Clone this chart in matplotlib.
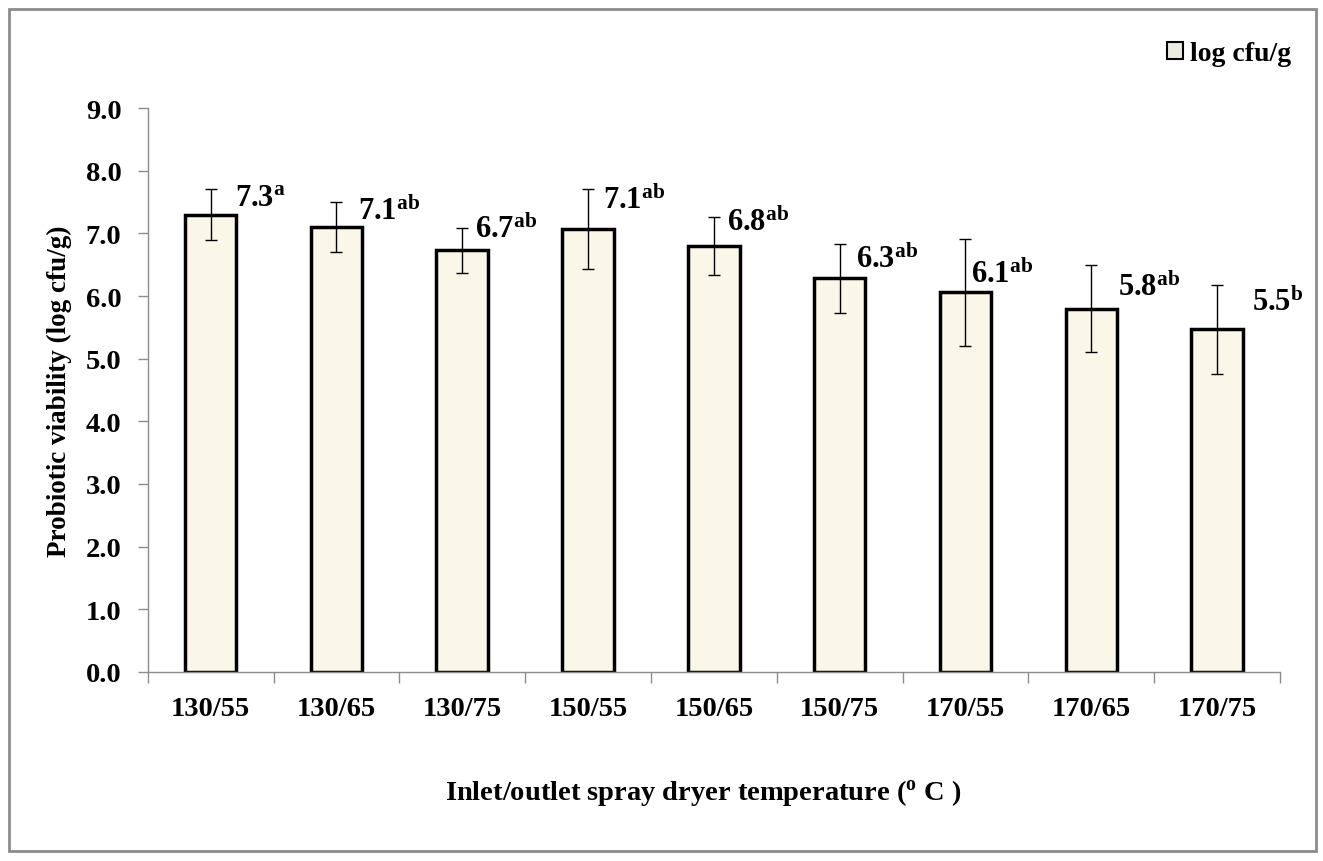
import numpy as np
import matplotlib
matplotlib.use("Agg")
import matplotlib.pyplot as plt
from matplotlib.patches import Rectangle, Patch

plt.rcParams['font.family'] = ['Liberation Serif', 'DejaVu Serif']
plt.rcParams['font.weight'] = 'bold'
plt.rcParams['mathtext.fontset'] = 'custom'
plt.rcParams['mathtext.rm'] = 'Liberation Serif:bold'
plt.rcParams['mathtext.bf'] = 'Liberation Serif:bold'
plt.rcParams['mathtext.it'] = 'Liberation Serif:bold'

# data
temps = ['130/55', '130/65', '130/75', '150/55', '150/65',
         '150/75', '170/55', '170/65', '170/75']
viability = [7.30, 7.10, 6.73, 7.07, 6.80, 6.28, 6.06, 5.80, 5.47]
errors = [0.40, 0.40, 0.36, 0.64, 0.46, 0.55, 0.85, 0.70, 0.71]
shown = ['7.3', '7.1', '6.7', '7.1', '6.8', '6.3', '6.1', '5.8', '5.5']
letters = ['a', 'ab', 'ab', 'ab', 'ab', 'ab', 'ab', 'ab', 'b']

# label nudges in pixels (from bar centre / bar top)
label_dx = [24, 22, 13, 15, 13, 16, 6, 27, 35]
label_dy = [10, 8, 13, 21, 16, 11, 10, 14, 19]

fig = plt.figure(figsize=(13.23, 8.62), dpi=100)
ax = fig.add_axes([0.1117, 0.2193, 0.8558, 0.6542])

# gray frame around the whole chart
fig.patches.append(Rectangle((9 / 1323, 10 / 862), 1307 / 1323, 842 / 862,
                             transform=fig.transFigure, fill=False,
                             edgecolor='#8c8c8c', linewidth=2))

x = np.arange(len(temps))
ax.bar(x, viability, width=0.41, color='#faf7e9', edgecolor='black',
       linewidth=2.5, label='log cfu/g', zorder=2)
ax.errorbar(x, viability, yerr=errors, fmt='none', ecolor='black',
            elinewidth=1, capsize=4, capthick=1, zorder=3)

for i in range(len(temps)):
    ax.annotate(r'$\mathbf{' + shown[i] + r'}^{\mathbf{' + letters[i] + r'}}$',
                xy=(x[i], viability[i]), xytext=(label_dx[i], label_dy[i]),
                textcoords='offset pixels', ha='left', va='baseline',
                fontsize=22, zorder=4)

ax.set_xlim(-0.5, len(temps) - 0.5)
ax.set_ylim(0, 9)
ax.set_yticks(np.arange(0, 9.1, 1.0))
ax.set_yticklabels([f'{v:.1f}' for v in np.arange(0, 9.1, 1.0)])
ax.set_xticks(x)
ax.set_xticklabels(temps)
ax.set_xticks(np.arange(-0.5, len(temps)), minor=True)
ax.tick_params(axis='x', which='major', length=0, pad=17, labelsize=20.5)
ax.tick_params(axis='x', which='minor', length=8, color='#8c8c8c', width=1)
ax.tick_params(axis='y', length=7, color='#8c8c8c', width=1, pad=12,
               labelsize=20.5)

for s in ['top', 'right']:
    ax.spines[s].set_visible(False)
for s in ['left', 'bottom']:
    ax.spines[s].set_color('#8c8c8c')
    ax.spines[s].set_linewidth(1)

ax.set_ylabel('Probiotic viability (log cfu/g)', fontsize=19.5,
              fontweight='bold', labelpad=10)
ax.set_xlabel(r'Inlet/outlet spray dryer temperature ($^{\mathbf{o}}$ C )',
              fontsize=20.5, fontweight='bold')
ax.xaxis.set_label_coords(0.491, -0.187)

handle = Patch(facecolor='#ecebe2', edgecolor='black', linewidth=1.5)
fig.legend([handle], ['log cfu/g'], loc='upper right',
           bbox_to_anchor=(0.995, 0.98), frameon=False, fontsize=20,
           handlelength=0.6, handleheight=0.6, handletextpad=0.25)

fig.savefig('out.png', dpi=100)
